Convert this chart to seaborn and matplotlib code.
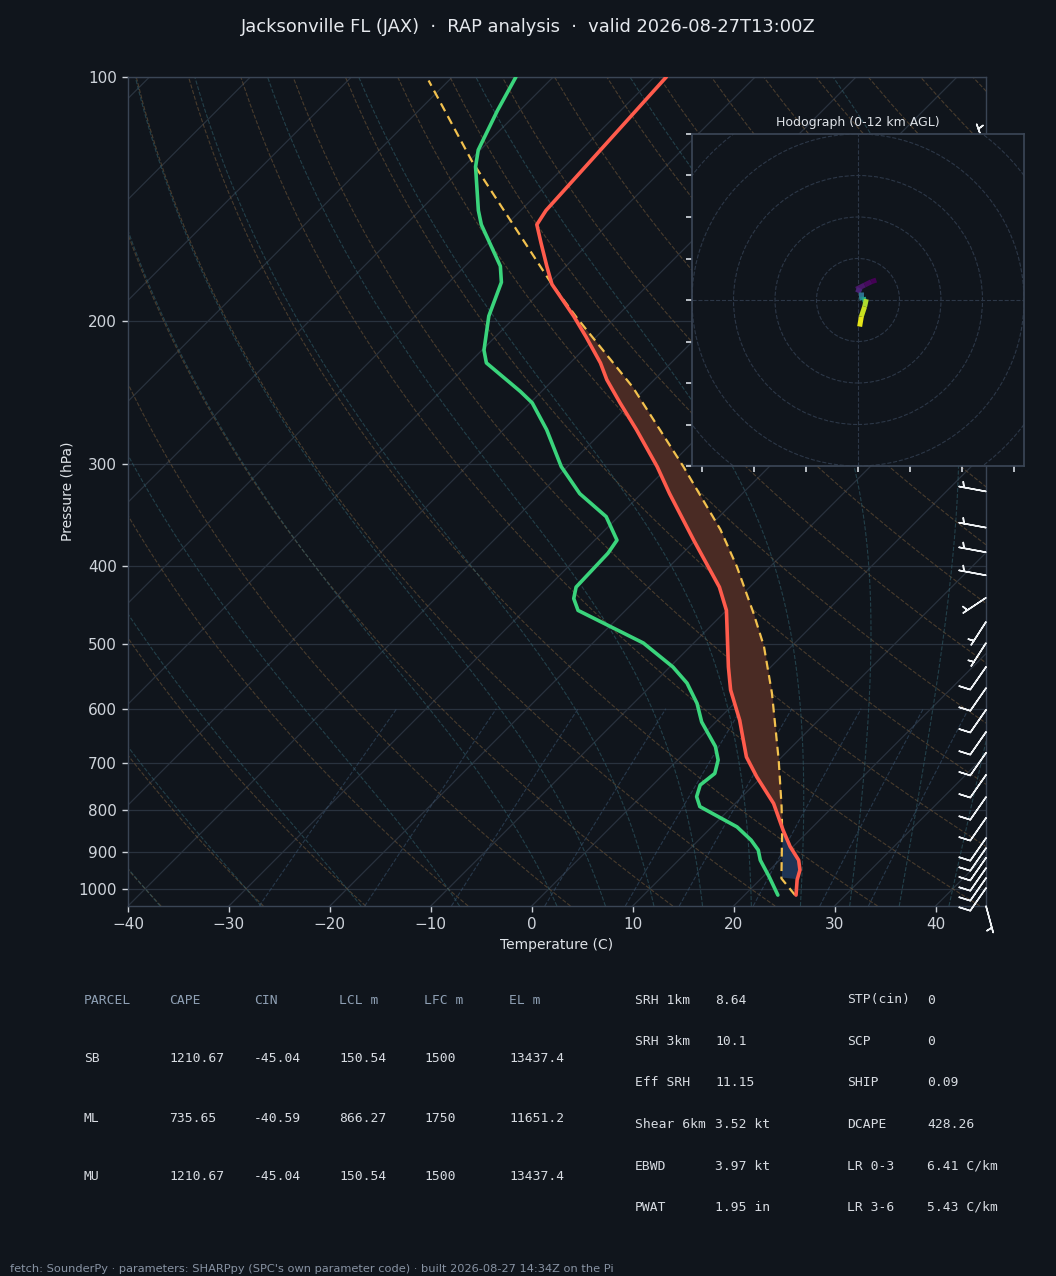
import numpy as np
import matplotlib
matplotlib.use("Agg")
import matplotlib.pyplot as plt
from matplotlib.transforms import Affine2D, blended_transform_factory
from matplotlib.collections import LineCollection
from matplotlib.patches import Circle
from matplotlib.ticker import NullLocator
import seaborn as sns

# --- sounding (hPa, degC), surface first ---
p_env = [1018, 975, 948, 922, 887, 847, 785, 728, 688, 643, 620, 569, 533, 454,
         425, 372, 326, 302, 272, 252, 236, 225, 209, 197, 180, 171, 160, 152, 146, 100]
t_env = [25.1, 23.7, 23.0, 21.9, 19.7, 17.4, 13.8, 9.5, 6.5, 3.7, 2.2, -1.7, -4.2, -10.0,
         -13.0, -20.2, -27.2, -31.1, -36.8, -41.1, -44.7, -47.0, -51.0, -54.3, -59.6, -61.9,
         -64.8, -67.0, -67.5, -68.8]

p_dew = [1018, 966, 922, 896, 871, 839, 792, 770, 745, 721, 694, 668, 623, 591, 558, 533,
         498, 454, 439, 425, 386, 372, 348, 326, 302, 272, 252, 244, 225, 217, 197, 179,
         171, 152, 146, 129, 123, 110, 100]
td_env = [23.3, 20.6, 18.1, 16.9, 15.2, 12.5, 6.8, 5.5, 4.7, 5.0, 4.0, 2.4, -1.4, -3.7,
          -6.7, -9.7, -15.0, -24.7, -26.3, -27.2, -27.4, -27.8, -31.2, -36.1, -40.6, -45.7,
          -49.8, -52.1, -58.3, -59.8, -62.7, -64.8, -66.5, -72.5, -74.2, -78.8, -80.2,
          -82.2, -83.7]

p_parcel = [1018, 971, 847, 792, 694, 574, 503, 458, 401, 361, 302, 241, 198, 180, 127, 101]
t_parcel = [25.0, 22.0, 17.3, 14.9, 10.0, 2.7, -2.7, -7.0, -13.3, -18.6, -28.5, -41.4,
            -53.8, -59.6, -79.7, -92.0]

# wind barbs (kt)
barb_p = [123, 160, 200, 250, 290, 324, 359, 385, 411, 438, 469, 498, 533, 566, 602, 641,
          680, 724, 771, 818, 866, 891, 916, 943, 970, 998, 1050]
barb_u = [1.7, 4.3, 4.3, 4.3, 4.3, 4.9, 4.9, 4.9, 4.9, 4.2, 2.7, 2.7, 5.7, 5.7, 5.7, 5.7,
          5.7, 5.7, 5.7, 5.7, 5.7, 5.7, 5.7, 5.7, 5.7, 5.7, -1.3]
barb_v = [-4.7, -2.5, -2.5, -2.5, -2.5, -0.9, -0.9, -0.9, -0.9, 2.8, 4.2, 4.2, 8.2, 8.2,
          8.2, 8.2, 8.2, 8.2, 8.2, 8.2, 8.2, 8.2, 8.2, 8.2, 8.2, 8.2, 4.8]

# hodograph
hodo_u = [4.4, 3.2, 1.6, -0.4, 0.8, 0.8, 1.0, 2.0, 1.6, 0.8, 0.4]
hodo_v = [4.8, 4.4, 3.6, 2.6, 2.0, 0.8, 0.0, 0.2, -1.6, -4.0, -6.4]
hodo_z = [0, 0.3, 0.7, 1.2, 4.5, 5.5, 7.0, 10.5, 11.0, 11.5, 12.0]

# background guide lines
dry_t0 = np.arange(-40, 201, 10)
moist_t0 = np.concatenate([np.arange(-40, 0, 10), np.arange(0, 46, 5)])
mix_w = [0.0004, 0.001, 0.002, 0.004, 0.007, 0.01, 0.016, 0.024, 0.032]
isotherms = np.arange(-130, 50, 10)

# tables
parcel_head = ["PARCEL", "CAPE", "CIN", "LCL m", "LFC m", "EL m"]
parcel_rows = [["SB", "1210.67", "-45.04", "150.54", "1500", "13437.4"],
               ["ML", "735.65", "-40.59", "866.27", "1750", "11651.2"],
               ["MU", "1210.67", "-45.04", "150.54", "1500", "13437.4"]]
idx_names1 = ["SRH 1km", "SRH 3km", "Eff SRH", "Shear 6km", "EBWD", "PWAT"]
idx_vals1 = ["8.64", "10.1", "11.15", "3.52 kt", "3.97 kt", "1.95 in"]
idx_names2 = ["STP(cin)", "SCP", "SHIP", "DCAPE", "LR 0-3", "LR 3-6"]
idx_vals2 = ["0", "0", "0.09", "428.26", "6.41 C/km", "5.43 C/km"]

BG = "#10151c"
SPINE = "#3a4555"
GRID = "#29323e"
TEXT = "#dfe3e8"
TICK = "#cfd4db"

sns.set_theme(style="dark", rc={
    "axes.facecolor": BG, "figure.facecolor": BG, "savefig.facecolor": BG,
    "axes.edgecolor": SPINE, "text.color": TEXT, "axes.labelcolor": TEXT,
    "xtick.color": TICK, "ytick.color": TICK, "xtick.bottom": True, "ytick.left": True,
    "axes.grid": False,
})
plt.rcParams["font.family"] = ["DejaVu Sans"]

fig = plt.figure(figsize=(10.56, 12.76), dpi=100)
W, H = 1056, 1276
ax = fig.add_axes([128 / W, 1 - 906 / H, 858 / W, 829 / H])
ax.set_yscale("log")
ax.set_ylim(1050, 100)
ax.set_xlim(-40, 45)
# 45 degree skew in display space, anchored at the bottom of the axes
skew = (ax.transScale + ax.transLimits
        + Affine2D().skew(np.arctan(829 / 858), 0) + ax.transAxes)

# isobars / isotherms
for p in range(100, 1001, 100):
    ax.axhline(p, color=GRID, lw=0.9, zorder=1)
for t in isotherms:
    ax.plot([t, t], [1050, 100], color=GRID, lw=0.9, transform=skew, zorder=1)

pg = np.linspace(1050, 100, 120)
for t0 in dry_t0:
    tt = (t0 + 273.15) * (pg / 1000.0) ** 0.2857 - 273.15
    ax.plot(tt, pg, color="#6e5538", lw=0.8, ls="--", alpha=0.6, transform=skew, zorder=1)


def moist_lines(t0s):
    Rd, Cp, Lv, eps = 287.04, 1005.7, 2.501e6, 0.622

    def dtdp(p, tk):
        es = 6.112 * np.exp(17.67 * (tk - 273.15) / (tk - 29.65))
        r = eps * es / (p - es)
        return (Rd * tk + Lv * r) / (Cp + Lv * Lv * r * eps / (Rd * tk * tk)) / p

    def run(pp):
        tk = np.asarray(t0s, float) + 273.15
        out = [tk]
        for p0, p1 in zip(pp[:-1], pp[1:]):
            h = p1 - p0
            k1 = dtdp(p0, tk)
            k2 = dtdp(p0 + h / 2, tk + h * k1 / 2)
            k3 = dtdp(p0 + h / 2, tk + h * k2 / 2)
            k4 = dtdp(p1, tk + h * k3)
            tk = tk + h * (k1 + 2 * k2 + 2 * k3 + k4) / 6
            out.append(tk)
        return np.array(out) - 273.15

    up = np.linspace(1000, 100, 181)
    dn = np.linspace(1000, 1050, 11)
    pp = np.concatenate([dn[::-1], up[1:]])
    tt = np.concatenate([run(dn)[::-1], run(up)[1:]])
    return pp, tt


mp, mt = moist_lines(moist_t0)
for i in range(len(moist_t0)):
    ax.plot(mt[:, i], mp, color="#2f5c68", lw=0.8, ls="--", alpha=0.6, transform=skew, zorder=1)

pm = np.linspace(1050, 600, 40)
for w in mix_w:
    e = w * pm / (0.622 + w)
    ln = np.log(e / 6.112)
    td = 243.5 * ln / (17.67 - ln)
    ax.plot(td, pm, color="#37506a", lw=0.8, ls="--", alpha=0.6, transform=skew, zorder=1)

# CAPE / CIN shading between parcel and environment
fp = np.geomspace(1018, 100, 500)
te_f = np.interp(-np.log(fp), -np.log(p_env), t_env)
tp_f = np.interp(-np.log(fp), -np.log(p_parcel), t_parcel)
ax.fill_betweenx(fp, te_f, tp_f, where=(tp_f >= te_f) & (fp < 900), interpolate=True,
                 color="#4a2b24", lw=0, transform=skew, zorder=2)
ax.fill_betweenx(fp, te_f, tp_f, where=(tp_f < te_f) & (fp > 700) & (fp <= 971),
                 interpolate=True, color="#1e3455", lw=0, transform=skew, zorder=2)

# profiles
sns.lineplot(x=t_parcel, y=p_parcel, sort=False, estimator=None, ax=ax, color="#f2c14e",
             lw=1.6, linestyle=(0, (4, 2.5)), transform=skew, zorder=4)
sns.lineplot(x=td_env, y=p_dew, sort=False, estimator=None, ax=ax, color="#3ad47c",
             lw=2.6, transform=skew, zorder=5)
sns.lineplot(x=t_env, y=p_env, sort=False, estimator=None, ax=ax, color="#ff5b4c",
             lw=2.6, transform=skew, zorder=5)

# wind barbs along the right edge
btr = blended_transform_factory(ax.transAxes, ax.transData)
ax.barbs(np.ones(len(barb_p)), barb_p, barb_u, barb_v, transform=btr, length=6.3,
         color="#eef1f4", lw=1.1, clip_on=False, zorder=6)

ax.set_ylim(1050, 100)
ax.set_xlim(-40, 45)
ax.set_yticks(range(100, 1001, 100))
ax.set_yticklabels([str(p) for p in range(100, 1001, 100)])
ax.yaxis.set_minor_locator(NullLocator())
ax.set_xticks(range(-40, 41, 10))
ax.tick_params(axis="both", labelsize=11, length=4, width=1, colors=TICK, pad=4)
ax.set_xlabel("Temperature (C)", fontsize=10, color=TEXT)
ax.set_ylabel("Pressure (hPa)", fontsize=10, color=TEXT, labelpad=3)
for s in ax.spines.values():
    s.set_color(SPINE)
    s.set_linewidth(1)

# hodograph inset
hx = fig.add_axes([692 / W, 1 - 466 / H, 332 / W, 332 / H])
hx.set_facecolor(BG)
hx.set_xlim(-40, 40)
hx.set_ylim(-40, 40)
for r in range(10, 70, 10):
    hx.add_patch(Circle((0, 0), r, fill=False, ec="#2c3747", lw=0.8, ls="--"))
hx.axhline(0, color="#2c3747", lw=0.8, ls="--")
hx.axvline(0, color="#2c3747", lw=0.8, ls="--")
pts = np.column_stack([hodo_u, hodo_v])
segs = np.stack([pts[:-1], pts[1:]], axis=1)
lc = LineCollection(segs, cmap=sns.color_palette("viridis", as_cmap=True), linewidths=3.6)
lc.set_array(np.asarray(hodo_z[:-1], float))
lc.set_clim(0, 12)
hx.add_collection(lc)
hx.set_yticks(range(-40, 41, 10))
hx.set_xticks([-37.5, -25, -12.5, 0, 12.5, 25, 37.5])
hx.tick_params(labelleft=False, labelbottom=False, length=4, colors=TICK)
for s in hx.spines.values():
    s.set_color(SPINE)
hx.set_title("Hodograph (0-12 km AGL)", fontsize=9, color=TEXT, pad=6)

# title and footer
fig.text(0.5, 1 - 27 / H,
         "Jacksonville FL (JAX)  \u00b7  RAP analysis  \u00b7  valid 2026-08-27T13:00Z",
         ha="center", va="center", fontsize=12.9, color="#e6e9ee")
fig.text(10 / W, 1 - 1269 / H,
         "fetch: SounderPy \u00b7 parameters: SHARPpy (SPC's own parameter code) \u00b7 built 2026-08-27 14:34Z on the Pi",
         ha="left", va="center", fontsize=8.2, color="#8893a3")

# parcel table
mono = "DejaVu Sans Mono"
col_x = [84, 169, 254, 339, 424, 509]
for cx, h in zip(col_x, parcel_head):
    fig.text(cx / W, 1 - 1000 / H, h, ha="left", va="center", family=mono,
             fontsize=9.4, color="#8fa0b4")
for ry, row in zip([1059, 1118, 1177], parcel_rows):
    for cx, v in zip(col_x, row):
        fig.text(cx / W, 1 - ry / H, v, ha="left", va="center", family=mono,
                 fontsize=9.4, color="#d8dce2")

# index block
row_y = [1000, 1041.5, 1083, 1124.5, 1166, 1207.5]
for ry, a, b, c, d in zip(row_y, idx_names1, idx_vals1, idx_names2, idx_vals2):
    for cx, s in zip([635, 715, 847, 927], [a, b, c, d]):
        fig.text(cx / W, 1 - ry / H, s, ha="left", va="center", family=mono,
                 fontsize=9.4, color="#d8dce2")

fig.savefig("out.png", dpi=100)
